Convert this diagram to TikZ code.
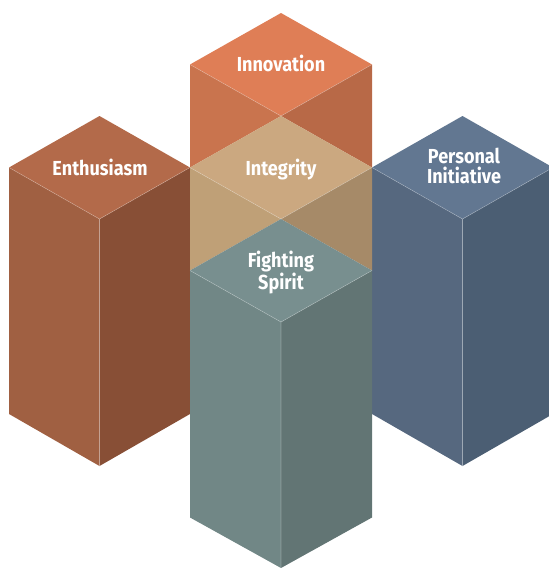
\documentclass[tikz,border=0pt]{standalone}
\usepackage{fontspec}
\newfontfamily\lblfont{Fira Sans}[FakeStretch=0.89]
% pillar colours: top, left face, right face
\definecolor{innTop}{HTML}{DF7E56}
\definecolor{innLeft}{HTML}{C9744E}
\definecolor{innRight}{HTML}{B86947}
\definecolor{intTop}{HTML}{CBA880}
\definecolor{intLeft}{HTML}{BFA077}
\definecolor{intRight}{HTML}{A68A68}
\definecolor{figTop}{HTML}{788F8F}
\definecolor{figLeft}{HTML}{718786}
\definecolor{figRight}{HTML}{627574}
\definecolor{entTop}{HTML}{B36A4A}
\definecolor{entLeft}{HTML}{A06042}
\definecolor{entRight}{HTML}{884F36}
\definecolor{perTop}{HTML}{627791}
\definecolor{perLeft}{HTML}{56687F}
\definecolor{perRight}{HTML}{4B5E73}
\begin{document}
\begin{tikzpicture}[x=1pt,y=-1pt,
  edge/.style={draw=white,draw opacity=0.28,line width=0.6pt},
  lbl/.style={text=white,align=center,inner sep=0pt,
    font=\lblfont\bfseries\fontsize{20.3}{20}\selectfont}]
\useasboundingbox (0,0) rectangle (549,568);
\clip (0,0) rectangle (549,568);

% Enthusiasm pillar
\fill[entLeft]  (9,167.5) -- (99.5,219) -- (99.5,466) -- (9,414) -- cycle;
\fill[entRight] (190,167.5) -- (99.5,219) -- (99.5,466) -- (190,414) -- cycle;
\fill[entTop]   (99.5,116) -- (190,167.5) -- (99.5,219) -- (9,167.5) -- cycle;
\draw[edge] (9,167.5) -- (99.5,219) -- (190,167.5) (99.5,219) -- (99.5,466);

% Personal Initiative pillar
\fill[perLeft]  (372,167.5) -- (462.5,219) -- (462.5,466) -- (372,414) -- cycle;
\fill[perRight] (553,167.5) -- (462.5,219) -- (462.5,466) -- (553,414) -- cycle;
\fill[perTop]   (462.5,116) -- (553,167.5) -- (462.5,219) -- (372,167.5) -- cycle;
\draw[edge] (372,167.5) -- (462.5,219) -- (553,167.5) (462.5,219) -- (462.5,466);

% Innovation cube
\fill[innTop]   (281,13) -- (372,64.5) -- (281,116) -- (190,64.5) -- cycle;
\fill[innLeft]  (190,64.5) -- (281,116) -- (190,167.5) -- cycle;
\fill[innRight] (372,64.5) -- (281,116) -- (372,167.5) -- cycle;
\draw[edge] (190,64.5) -- (281,116) -- (372,64.5);

% Integrity, where the columns cross
\fill[intTop]   (281,116) -- (372,167.5) -- (281,219) -- (190,167.5) -- cycle;
\fill[intLeft]  (190,167.5) -- (281,219) -- (190,270.5) -- cycle;
\fill[intRight] (372,167.5) -- (281,219) -- (372,270.5) -- cycle;
\draw[edge] (190,167.5) -- (281,219) -- (372,167.5);

% Fighting Spirit pillar
\fill[figLeft]  (190,270.5) -- (281,322) -- (281,568) -- (190,517.5) -- cycle;
\fill[figRight] (372,270.5) -- (281,322) -- (281,568) -- (372,517.5) -- cycle;
\fill[figTop]   (281,219) -- (372,270.5) -- (281,322) -- (190,270.5) -- cycle;
\draw[edge] (190,270.5) -- (281,322) -- (372,270.5) (281,322) -- (281,568);

% labels (multi-line nodes sit on the baseline of their last line)
\node[lbl,anchor=base] (innovation) at (281,71.7) {Innovation};
\node[lbl,anchor=base] (integrity) at (281,175) {Integrity};
\node[lbl,anchor=base] (enthusiasm) at (100,175) {Enthusiasm};
\node[lbl,anchor=base] (fighting) at (281,289.3) {Fighting\\Spirit};
\node[lbl,anchor=base] (personal) at (464,183.5) {Personal\\Initiative};
\end{tikzpicture}
\end{document}
